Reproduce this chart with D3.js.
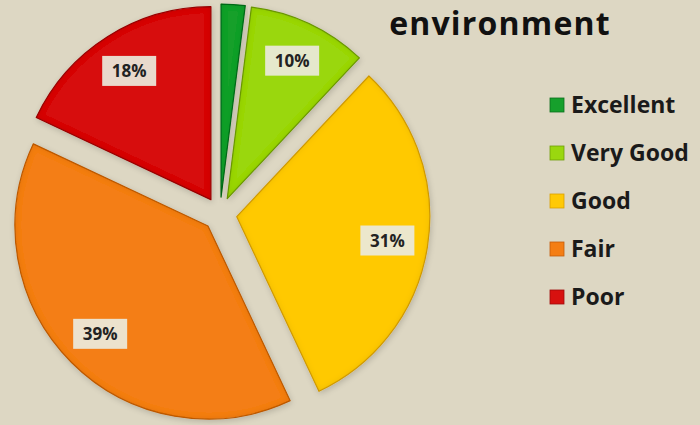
<!DOCTYPE html>
<html>
<head>
<meta charset="utf-8">
<script src="https://cdn.jsdelivr.net/npm/d3@7/dist/d3.min.js"></script>
<style>
  html, body { margin: 0; padding: 0; background: #ddd7c3; }
  svg { display: block; }
</style>
</head>
<body>
<svg id="chart" width="700" height="425"></svg>
<script>
// Ratings of the environment, in percent
const categories = ["Excellent", "Very Good", "Good", "Fair", "Poor"];
const values = [2, 10, 31, 39, 18];
const colors = ["#16a02c", "#9ad70f", "#ffc905", "#f47e14", "#d7110f"];
const edgeColors = ["#0b6e1c", "#6f9e08", "#d9a000", "#c45d0c", "#9e0a0a"];
const labelShown = [false, true, true, true, true];
const title = "environment";

const width = 700, height = 425;
const cx = 220, cy = 214, radius = 193, explode = 17;
const font = "'Open Sans', Lato, sans-serif";

const svg = d3.select("#chart");
svg.append("rect").attr("width", width).attr("height", height).attr("fill", "#ddd7c3");

const defs = svg.append("defs");
// Soft inner shading and faint outer shadow for each wedge
const f = defs.append("filter").attr("id", "bevel")
  .attr("x", "-10%").attr("y", "-10%").attr("width", "120%").attr("height", "120%");
f.append("feGaussianBlur").attr("in", "SourceAlpha").attr("stdDeviation", 3).attr("result", "blur");
f.append("feComposite").attr("in", "SourceAlpha").attr("in2", "blur")
  .attr("operator", "arithmetic").attr("k2", 1).attr("k3", -1).attr("result", "edge");
f.append("feFlood").attr("flood-color", "#000").attr("flood-opacity", 0.22);
f.append("feComposite").attr("in2", "edge").attr("operator", "in").attr("result", "shade");
f.append("feOffset").attr("in", "blur").attr("dx", 1).attr("dy", 2).attr("result", "off");
f.append("feComponentTransfer").attr("in", "off").attr("result", "shadow")
  .append("feFuncA").attr("type", "linear").attr("slope", 0.18);
const merge = f.append("feMerge");
merge.append("feMergeNode").attr("in", "shadow");
merge.append("feMergeNode").attr("in", "SourceGraphic");
merge.append("feMergeNode").attr("in", "shade");

const pie = d3.pie().sort(null).value(d => d.value).startAngle(0).endAngle(2 * Math.PI);
const data = categories.map((c, i) => ({ name: c, value: values[i], i }));
const arcs = pie(data);
const arc = d3.arc().innerRadius(0).outerRadius(radius);

const g = svg.append("g").attr("transform", `translate(${cx},${cy})`);

const slices = g.selectAll("g.slice").data(arcs).enter().append("g")
  .attr("class", "slice")
  .attr("transform", d => {
    const a = (d.startAngle + d.endAngle) / 2;
    return `translate(${explode * Math.sin(a)},${-explode * Math.cos(a)})`;
  });

slices.append("path")
  .attr("d", arc)
  .attr("fill", d => colors[d.data.i])
  .attr("stroke", d => edgeColors[d.data.i])
  .attr("stroke-width", 1.2)
  .attr("stroke-linejoin", "round")
  .attr("filter", "url(#bevel)");

// Value labels in light boxes
const labelR = radius * 0.79;
const lbl = slices.filter(d => labelShown[d.data.i]).append("g")
  .attr("transform", d => {
    const a = (d.startAngle + d.endAngle) / 2;
    return `translate(${labelR * Math.sin(a)},${-labelR * Math.cos(a)})`;
  });
lbl.append("rect")
  .attr("x", -27).attr("y", -15).attr("width", 54).attr("height", 30)
  .attr("fill", "#ebe9dc").attr("fill-opacity", 0.93);
lbl.append("text")
  .attr("text-anchor", "middle").attr("dy", "0.36em")
  .attr("font-family", font).attr("font-weight", "bold")
  .attr("font-size", 17).attr("fill", "#222")
  .text(d => d.data.value + "%");

// Title
svg.append("text")
  .attr("x", 500).attr("y", 35).attr("text-anchor", "middle")
  .attr("font-family", font).attr("font-weight", "bold")
  .attr("font-size", 32).attr("letter-spacing", 1.2).attr("fill", "#111")
  .text(title);

// Legend
const legend = svg.append("g").attr("transform", "translate(550,105)");
const item = legend.selectAll("g").data(categories).enter().append("g")
  .attr("transform", (d, i) => `translate(0,${i * 48})`);
item.append("rect")
  .attr("x", 0).attr("y", -7).attr("width", 14).attr("height", 14)
  .attr("fill", (d, i) => colors[i]).attr("stroke", (d, i) => edgeColors[i]).attr("stroke-width", 0.8);
item.append("text")
  .attr("x", 21).attr("dy", "0.36em")
  .attr("font-family", font).attr("font-weight", "bold")
  .attr("font-size", 23).attr("fill", "#1a1a1a")
  .text(d => d);
</script>
</body>
</html>
